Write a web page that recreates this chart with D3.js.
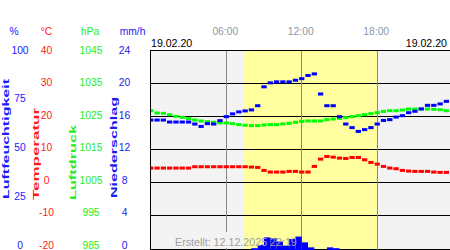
<!DOCTYPE html>
<html>
<head>
<meta charset="utf-8">
<script src="https://cdn.jsdelivr.net/npm/d3@7"></script>
<style>
  body { margin: 0; background: #fff; }
  svg { display: block; font-family: "Liberation Sans", Arial, sans-serif; }
</style>
</head>
<body>
<div id="chart"></div>
<script>
// half-hour readings for 19.02.20, 00:00 .. 24:00
var humidity = [64.8, 64.8, 64.8, 63.8, 63.8, 63.8, 63.8, 62.8, 61.6, 63.0, 62.8, 64.5, 66.5,
    67.9, 68.9, 69.4, 69.9, 72.0, 81.5, 83.5, 84.0, 84.0, 84.0, 84.8, 85.6, 87.2, 88.0, 77.9,
    72.0, 72.0, 66.5, 62.8, 61.0, 59.1, 60.0, 61.0, 62.8, 64.6, 65.0, 66.3, 67.0, 68.5, 69.2,
    70.4, 72.2, 72.2, 72.9, 74.2, 75.1];
var temperature = [4.4, 4.4, 4.4, 4.4, 4.4, 4.4, 4.4, 4.8, 4.8, 4.8, 4.8, 4.8, 4.8, 4.8, 4.8,
    4.8, 4.7, 4.6, 3.7, 3.2, 3.2, 3.2, 3.4, 3.4, 3.2, 3.2, 4.9, 7.1, 7.9, 7.7, 7.4, 7.3, 7.6,
    7.6, 6.9, 6.1, 5.6, 4.9, 4.4, 4.2, 3.7, 3.5, 3.4, 3.4, 3.4, 3.2, 3.1, 3.1, 3.1];
var pressure = [1026.7, 1026.0, 1025.9, 1025.5, 1025.0, 1024.7, 1024.3, 1023.9, 1023.6, 1023.4,
    1023.2, 1023.0, 1023.0, 1022.8, 1022.5, 1022.3, 1022.2, 1022.2, 1022.4, 1022.5, 1022.5,
    1022.7, 1022.9, 1023.2, 1023.5, 1023.6, 1023.6, 1023.6, 1024.0, 1024.2, 1024.4, 1024.6,
    1024.9, 1025.2, 1025.5, 1025.8, 1026.1, 1026.5, 1026.7, 1026.7, 1026.9, 1027.2, 1027.2,
    1027.2, 1027.2, 1027.1, 1027.0, 1026.7, 1026.5];
var precipitation = [0, 0, 0, 0, 0, 0, 0, 0, 0, 0, 0, 0, 0, 0, 0, 0, 0.1, 0.5, 1.4, 1.3, 0.9,
    0.4, 1.2, 1.5, 0.8, 0.2, 0, 0, 0.2, 0.1, 0, 0, 0, 0, 0, 0, 0, 0, 0, 0, 0, 0, 0, 0, 0, 0,
    0, 0, 0];

var humTicks = [0, 25, 50, 75, 100];
var tempTicks = [-20, -10, 0, 10, 20, 30, 40];
var presTicks = [985, 995, 1005, 1015, 1025, 1035, 1045];
var rainTicks = [0, 4, 8, 12, 16, 20, 24];
var hourLines = [6, 12, 18];
var daylight = [7.42, 18.0];
var dateLabel = "19.02.20";
var createdLabel = "Erstellt: 12.12.2025 22:19";

var W = 450, H = 250;
var plotLeft = 150.8, plotTop = 50, plotBottom = 249;
var step = 0.5;
var hours = humidity.map(function (d, i) { return i * step; });

var svg = d3.select("#chart").append("svg")
    .attr("width", W).attr("height", H);

var x = d3.scaleLinear().domain([0, 24]).range([plotLeft, 452.7]);
var yTemp = d3.scaleLinear().domain([-20, 40]).range([plotBottom, plotTop]);
var yHum = d3.scaleLinear().domain([0, 100]).range([plotBottom, plotTop]);
var yPres = d3.scaleLinear().domain([985, 1045]).range([plotBottom, plotTop]);
var yRain = d3.scaleLinear().domain([0, 24]).range([plotBottom, plotTop]);

// label rows sit a little tighter than the grid
var lab = function (dom) { return d3.scaleLinear().domain(dom).range([245, 50]); };

svg.append("defs").append("clipPath").attr("id", "clip")
    .append("rect").attr("x", 150.5).attr("y", plotTop)
    .attr("width", W - 150.5).attr("height", plotBottom - plotTop + 1);

var plot = svg.append("g").attr("clip-path", "url(#clip)");

plot.append("rect").attr("x", 150.5).attr("y", plotTop).attr("width", W)
    .attr("height", plotBottom - plotTop + 1).attr("fill", "#f3f3f3");
plot.append("rect").attr("x", x(daylight[0])).attr("y", plotTop)
    .attr("width", x(daylight[1]) - x(daylight[0])).attr("height", plotBottom - plotTop + 1)
    .attr("fill", "#ffffa0");

// horizontal grid
plot.selectAll(".grid").data(tempTicks).enter().append("line")
    .attr("x1", 150).attr("x2", W)
    .attr("y1", function (d) { return Math.floor(yTemp(d)) + 0.5; })
    .attr("y2", function (d) { return Math.floor(yTemp(d)) + 0.5; })
    .attr("stroke", "#000").attr("stroke-width", 1);

// hour lines
plot.selectAll(".hl").data(hourLines).enter().append("line")
    .attr("x1", function (d) { return Math.floor(x(d)) + 0.5; })
    .attr("x2", function (d) { return Math.floor(x(d)) + 0.5; })
    .attr("y1", plotTop).attr("y2", plotBottom + 1)
    .attr("stroke", "#888").attr("stroke-width", 1);

// precipitation bars
var bw = x(step) - x(0);
plot.append("g").selectAll("rect").data(hours).enter().append("rect")
    .filter(function (d, i) { return precipitation[i] > 0; })
    .attr("x", function (d) { return x(d); })
    .attr("y", function (d) { return yRain(precipitation[hours.indexOf(d)]); })
    .attr("width", bw)
    .attr("height", function (d) { return plotBottom + 1 - yRain(precipitation[hours.indexOf(d)]); })
    .attr("fill", "#0000ff");

function dots(values, scale, color) {
    plot.append("g").selectAll("rect").data(values).enter().append("rect")
        .attr("x", function (d, i) { return x(hours[i]) - bw / 2 + 0.5; })
        .attr("y", function (d) { return scale(d) - 1.5; })
        .attr("width", bw - 1)
        .attr("height", 3)
        .attr("fill", color);
}
dots(pressure, yPres, "#00ff00");
dots(humidity, yHum, "#0000ff");
dots(temperature, yTemp, "#ff0000");

// frame
svg.append("line").attr("x1", 150.5).attr("x2", 150.5).attr("y1", plotTop).attr("y2", plotBottom + 1)
    .attr("stroke", "#000");
svg.append("line").attr("x1", 150).attr("x2", W).attr("y1", plotTop + 0.5).attr("y2", plotTop + 0.5)
    .attr("stroke", "#000");

// mask behind the footer text on the grey part
svg.append("rect").attr("x", 172).attr("y", 232).attr("width", x(daylight[0]) - 172).attr("height", 16)
    .attr("fill", "#f3f3f3");
svg.append("text").attr("x", 175).attr("y", 245.5).attr("font-size", 10.7)
    .attr("fill", "#a0a0a0").text(createdLabel);

// top labels
svg.selectAll(".tl").data(hourLines).enter().append("text")
    .attr("x", function (d) { return x(d) - 1; }).attr("y", 34.5)
    .attr("text-anchor", "middle").attr("font-size", 10.3).attr("fill", "#8a98aa")
    .text(function (d) { return d3.format("02")(d) + ":00"; });
svg.append("text").attr("x", 151).attr("y", 47).attr("font-size", 10.6).attr("fill", "#000").text(dateLabel);
svg.append("text").attr("x", 447).attr("y", 47).attr("text-anchor", "end").attr("font-size", 10.6)
    .attr("fill", "#000").text(dateLabel);

// left axes
var cols = [
    { unit: "%", title: "Luftfeuchtigkeit", ticks: humTicks, dom: [0, 100], cx: 20, ux: 14, color: "#1a1aff", tx: 8.5, ty0: 199, len: 120 },
    { unit: "°C", title: "Temperatur", ticks: tempTicks, dom: [-20, 40], cx: 46.5, ux: 46.5, color: "#ff1a1a", tx: 38.5, ty0: 200, len: 92 },
    { unit: "hPa", title: "Luftdruck", ticks: presTicks, dom: [985, 1045], cx: 91, ux: 90, color: "#22ee22", tx: 76, ty0: 200, len: 75 },
    { unit: "mm/h", title: "Niederschlag", ticks: rainTicks, dom: [0, 24], cx: 124.5, ux: 132.5, color: "#1a1aee", tx: 116.5, ty0: 198, len: 101 }
];

cols.forEach(function (c) {
    var s = lab(c.dom);
    svg.append("text").attr("x", c.ux).attr("y", 34.5).attr("text-anchor", "middle")
        .attr("font-size", 10.3).attr("fill", c.color).text(c.unit);
    svg.append("g").selectAll("text").data(c.ticks).enter().append("text")
        .attr("x", c.cx).attr("y", function (d) { return s(d) + 3.7; })
        .attr("text-anchor", "middle").attr("font-size", 10.3).attr("fill", c.color)
        .text(function (d) { return d; });
    svg.append("text")
        .attr("transform", "translate(" + c.tx + "," + c.ty0 + ") rotate(-90)")
        .attr("font-size", 8.5).attr("font-weight", "bold").attr("fill", c.color)
        .attr("textLength", c.len).attr("lengthAdjust", "spacingAndGlyphs")
        .text(c.title);
});
</script>
</body>
</html>
